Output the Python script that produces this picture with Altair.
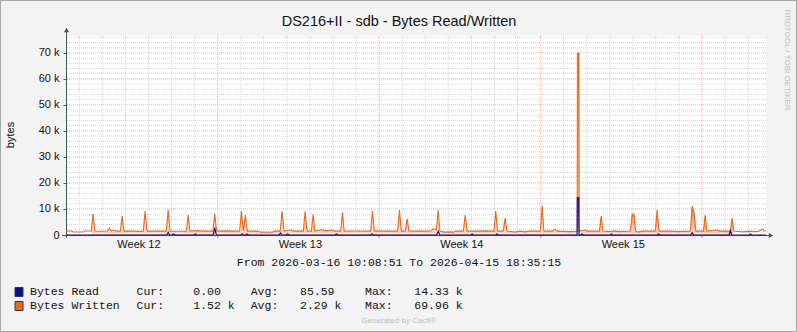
import altair as alt
import pandas as pd
from datetime import datetime, timedelta

# ---------------- data ----------------
TITLE = "DS216+II - sdb - Bytes Read/Written"
START = datetime(2026, 3, 16, 10, 8, 51)
END = datetime(2026, 4, 15, 18, 35, 15)

def off(dt):
    return (dt - START).total_seconds() / 86400.0

SPAN = off(END)

# Bytes Written: day offset from start, value in k, spike group (0 = baseline)
w_day = [0.00, 0.25, 0.30, 0.75, 0.82,
         1.10, 1.175, 1.25, 1.50,
         1.80, 1.88, 1.96, 2.05, 2.15,
         2.36, 2.433, 2.51, 2.80, 3.10,
         3.35, 3.43, 3.51, 3.90,
         4.35, 4.428, 4.51, 4.80,
         5.22, 5.295, 5.37, 5.70, 6.00,
         6.37, 6.449, 6.53, 6.90, 7.25,
         7.53, 7.606, 7.69, 7.78, 7.86,
         8.30, 8.45, 8.95, 9.05,
         9.29, 9.371, 9.45, 9.75, 9.85,
         10.29, 10.369, 10.45,
         10.64, 10.716, 10.79, 11.10, 11.25, 11.50, 11.65,
         11.91, 11.986, 12.06, 12.50,
         13.21, 13.287, 13.37, 13.80,
         14.38, 14.458, 14.54,
         14.71, 14.792, 14.87, 15.30, 15.70,
         15.85, 15.93, 16.06, 16.136, 16.21,
         16.40, 16.80, 16.90,
         17.23, 17.307, 17.39, 17.80, 18.20,
         18.56, 18.634, 18.71,
         18.96, 19.042, 19.12, 19.50, 19.70, 19.90, 20.10,
         20.57, 20.646, 20.72, 21.10, 21.18, 21.30, 21.80,
         22.165, 22.175, 22.240, 22.250,
         22.50, 22.60,
         23.13, 23.204, 23.28, 23.60, 23.80, 24.00,
         24.47, 24.549, 24.60, 24.636, 24.70, 24.80, 25.00,
         25.55, 25.633, 25.71, 26.20, 26.50,
         27.07, 27.151, 27.237, 27.31,
         27.64, 27.714, 27.79, 28.25, 28.35,
         28.81, 28.886, 28.96, 29.30, 29.60, 30.00, 30.20, 30.28, SPAN]
w_k = [1.55, 1.55, 1.15, 1.15, 1.55,
       1.55, 8.1, 1.55, 1.45,
       1.55, 2.6, 1.55, 1.9, 1.5,
       1.5, 7.3, 1.5, 1.55, 1.4,
       1.5, 9.2, 1.5, 1.55,
       1.5, 9.6, 1.5, 1.45,
       1.5, 7.7, 1.5, 1.7, 1.5,
       1.5, 8.1, 1.5, 1.6, 1.5,
       1.5, 9.1, 1.6, 7.7, 1.5,
       1.5, 1.05, 1.05, 1.5,
       1.5, 9.2, 1.5, 1.9, 1.5,
       1.5, 9.1, 1.5,
       1.5, 8.0, 1.5, 2.0, 1.6, 1.9, 1.5,
       1.5, 8.5, 1.5, 1.55,
       1.5, 9.2, 1.5, 1.5,
       1.5, 9.6, 1.5,
       1.5, 6.2, 1.5, 1.5, 1.5,
       1.6, 2.4, 2.0, 9.6, 1.5,
       1.1, 1.1, 1.5,
       1.5, 7.7, 1.5, 1.5, 1.6,
       1.5, 9.2, 1.5,
       1.5, 6.5, 1.5, 1.1, 1.5, 1.2, 1.5,
       1.5, 11.2, 1.5, 1.5, 2.2, 1.5, 1.3,
       1.4, 69.96, 69.96, 1.5,
       1.9, 1.5,
       1.5, 7.3, 1.5, 1.3, 1.6, 1.3,
       1.5, 8.1, 7.9, 7.8, 1.5, 1.1, 1.5,
       1.5, 9.6, 1.5, 1.5, 1.3,
       1.5, 11.2, 8.5, 1.5,
       1.5, 7.7, 1.5, 1.9, 1.5,
       1.5, 6.5, 1.5, 1.2, 1.4, 1.3, 2.2, 1.52, 1.52]
w_grp = [0, 0, 0, 0, 0,
         1, 1, 1, 0,
         2, 2, 2, 0, 0,
         3, 3, 3, 0, 0,
         4, 4, 4, 0,
         5, 5, 5, 0,
         6, 6, 6, 0, 0,
         7, 7, 7, 0, 0,
         8, 8, 8, 8, 8,
         0, 0, 0, 0,
         9, 9, 9, 0, 0,
         10, 10, 10,
         11, 11, 11, 0, 0, 0, 0,
         12, 12, 12, 0,
         13, 13, 13, 0,
         14, 14, 14,
         15, 15, 15, 0, 0,
         16, 16, 16, 16, 16,
         0, 0, 0,
         17, 17, 17, 0, 0,
         18, 18, 18,
         19, 19, 19, 0, 0, 0, 0,
         20, 20, 20, 0, 0, 0, 0,
         21, 21, 21, 21,
         0, 0,
         22, 22, 22, 0, 0, 0,
         23, 23, 23, 23, 23, 0, 0,
         24, 24, 24, 0, 0,
         25, 25, 25, 25,
         26, 26, 26, 0, 0,
         27, 27, 27, 0, 0, 0, 0, 0, 0]

# Bytes Read
r_day = [0.00,
         4.37, 4.43, 4.49, 4.60, 4.66, 4.72,
         5.55, 5.61, 5.67,
         6.38, 6.45, 6.52,
         7.58, 7.64, 7.70, 7.79, 7.85, 7.91,
         9.24, 9.30, 9.36, 9.54, 9.60, 9.66,
         11.67, 11.73, 11.79,
         13.21, 13.27, 13.33,
         16.07, 16.14, 16.21,
         17.55, 17.61, 17.67,
         18.63, 18.69, 18.75,
         22.160, 22.170, 22.235, 22.245,
         22.32, 22.38, 22.44,
         23.59, 23.65, 23.71,
         25.63, 25.69, 25.75,
         27.09, 27.15, 27.21,
         28.75, 28.81, 28.87,
         29.62, 29.68, 29.74, SPAN]
r_k = [0.0,
       0.0, 1.1, 0.0, 0.0, 0.4, 0.0,
       0.0, 0.4, 0.0,
       0.0, 2.7, 0.0,
       0.0, 0.5, 0.0, 0.0, 0.4, 0.0,
       0.0, 0.8, 0.0, 0.0, 0.4, 0.0,
       0.0, 0.4, 0.0,
       0.0, 0.5, 0.0,
       0.0, 1.5, 0.0,
       0.0, 0.4, 0.0,
       0.0, 0.4, 0.0,
       0.0, 14.33, 14.33, 0.0,
       0.0, 0.4, 0.0,
       0.0, 0.4, 0.0,
       0.0, 0.4, 0.0,
       0.0, 0.9, 0.0,
       0.0, 1.8, 0.0,
       0.0, 0.4, 0.0, 0.0]
r_grp = [0,
         1, 1, 1, 0, 0, 0,
         0, 0, 0,
         2, 2, 2,
         0, 0, 0, 0, 0, 0,
         3, 3, 3, 0, 0, 0,
         0, 0, 0,
         0, 0, 0,
         4, 4, 4,
         0, 0, 0,
         0, 0, 0,
         5, 5, 5, 5,
         0, 0, 0,
         0, 0, 0,
         0, 0, 0,
         6, 6, 6,
         7, 7, 7,
         0, 0, 0, 0]

legend_names = ["Bytes Read", "Bytes Written"]
legend_cur = ["0.00", "1.52 k"]
legend_avg = ["85.59", "\u00a02.29 k"]
legend_max = ["14.33 k", "69.96 k"]
week_labels = ["Week 12", "Week 13", "Week 14", "Week 15"]
week_mid_dates = [datetime(2026, 3, 19, 12), datetime(2026, 3, 26, 12),
                  datetime(2026, 4, 2, 12), datetime(2026, 4, 9, 12)]
week_start_dates = [datetime(2026, 3, 23), datetime(2026, 3, 30),
                    datetime(2026, 4, 6), datetime(2026, 4, 13)]
y_major = [0, 10000, 20000, 30000, 40000, 50000, 60000, 70000]
Y_TOP = 76500

# derived grid positions
day_lines = []
d = datetime(2026, 3, 17)
while d < END:
    if d not in week_start_dates:
        day_lines.append(off(d))
    d += timedelta(days=1)
week_lines = [off(x) for x in week_start_dates]
week_mid = [off(x) for x in week_mid_dates]
y_minor = [v for v in range(2000, 77000, 2000) if v % 10000 != 0]
y_grid_major = [v for v in y_major if v > 0]

written = pd.DataFrame({"day": w_day, "bytes": [v * 1000 for v in w_k], "grp": w_grp})
read = pd.DataFrame({"day": r_day, "bytes": [v * 1000 for v in r_k], "grp": r_grp})

# ---------------- styling ----------------
ORANGE = "#EC6A1C"
BLUE = "#0A0AA0"
AXIS = "#3c5a50"
W, H = 700, 199
SANS = "Liberation Sans"
MONO = "Liberation Mono"

xs = alt.Scale(domain=[0, SPAN], nice=False, zero=False)
ys = alt.Scale(domain=[0, Y_TOP], nice=False, zero=True)
yaxis = alt.Axis(values=y_major, labelExpr="datum.value == 0 ? '0' : format(datum.value/1000, 'd') + ' k'",
                 domain=False, grid=False, ticks=True, tickSize=3, tickColor=AXIS,
                 labelFont=SANS, labelFontSize=11, labelColor="#111111", labelPadding=4, title=None)

def X(f="day"):
    return alt.X(f + ":Q", scale=xs, axis=None)

def Y(f="bytes"):
    return alt.Y(f + ":Q", scale=ys, axis=yaxis)

dummy = pd.DataFrame({"a": [0]})

def text(s, x, y, size=11, font=SANS, color="#111111", align="left", angle=0):
    return alt.Chart(dummy).mark_text(font=font, fontSize=size, color=color, align=align,
                                      baseline="middle", angle=angle).encode(
        x=alt.value(x), y=alt.value(y), text=alt.value(s))

layers = []
# grid
layers.append(alt.Chart(pd.DataFrame({"v": y_minor})).mark_rule(color="#d8d8d8", strokeDash=[1, 1], strokeWidth=1)
              .encode(y=Y("v")))
layers.append(alt.Chart(pd.DataFrame({"v": day_lines})).mark_rule(color="#d8d8d8", strokeDash=[1, 1], strokeWidth=1)
              .encode(x=X("v")))
layers.append(alt.Chart(pd.DataFrame({"v": y_grid_major})).mark_rule(color="#e8b2b2", strokeDash=[1, 1], strokeWidth=1)
              .encode(y=Y("v")))
layers.append(alt.Chart(pd.DataFrame({"v": week_lines})).mark_rule(color="#e8b2b2", strokeDash=[1, 1], strokeWidth=1)
              .encode(x=X("v")))
layers.append(alt.Chart(pd.DataFrame({"v": week_lines})).mark_rule(color="#d88a8a", strokeWidth=1)
              .encode(x=X("v"), y=alt.value(H), y2=alt.value(H + 3)))

# areas (gradient per spike)
og = alt.Gradient(gradient="linear", x1=0, x2=0, y1=0, y2=1,
                  stops=[alt.GradientStop(color=ORANGE, offset=0),
                         alt.GradientStop(color="#F29A66", offset=0.35),
                         alt.GradientStop(color="#FBDCC9", offset=1)])
bg = alt.Gradient(gradient="linear", x1=0, x2=0, y1=0, y2=1,
                  stops=[alt.GradientStop(color=BLUE, offset=0),
                         alt.GradientStop(color="#6C68C8", offset=0.5),
                         alt.GradientStop(color="#CFCBF0", offset=1)])
layers.append(alt.Chart(written).transform_filter("datum.grp > 0").mark_area(color=og, opacity=1)
              .encode(x=X(), y=Y(), detail="grp:N"))
layers.append(alt.Chart(read).transform_filter("datum.grp > 0").mark_area(color=bg, opacity=1)
              .encode(x=X(), y=Y(), detail="grp:N"))

# axis lines
layers.append(alt.Chart(dummy).mark_rule(color=AXIS, strokeWidth=1)
              .encode(x=alt.value(-4), x2=alt.value(W + 3), y=alt.value(H + 0.5)))
layers.append(alt.Chart(dummy).mark_rule(color=AXIS, strokeWidth=1)
              .encode(x=alt.value(0.5), y=alt.value(H + 3), y2=alt.value(-5)))
layers.append(alt.Chart(dummy).mark_point(shape="triangle-up", filled=True, size=26, color=AXIS, opacity=1)
              .encode(x=alt.value(0.5), y=alt.value(-6)))
layers.append(alt.Chart(dummy).mark_point(shape="triangle-right", filled=True, size=26, color=AXIS, opacity=1)
              .encode(x=alt.value(W + 5), y=alt.value(H + 0.5)))

# lines
layers.append(alt.Chart(written).mark_line(color=ORANGE, strokeWidth=1.1).encode(x=X(), y=Y()))
layers.append(alt.Chart(read).mark_line(color=BLUE, strokeWidth=1.1).encode(x=X(), y=Y()))

# week labels
layers.append(alt.Chart(pd.DataFrame({"v": week_mid, "t": week_labels}))
              .mark_text(font=SANS, fontSize=11, color="#111111", baseline="middle", dx=2)
              .encode(x=X("v"), y=alt.value(H + 10), text="t:N"))

# texts
layers.append(text(TITLE, 333, -14, size=14.5, align="center"))
layers.append(text("bytes", -55, 99, size=11, align="center", angle=270))
layers.append(text("From 2026-03-16 10:08:51 To 2026-04-15 18:35:15", 333, 227, size=11.5, font=MONO, align="center"))
layers.append(text("Generated by Cacti\u00ae", 333, 285, size=8, color="#bcbcbc", align="center"))
layers.append(text("RRDTOOL / TOBI OETIKER", 721, 24, size=8, color="#bdbdbd", align="center", angle=90))

row_y = [256, 270]
sw_colors = [BLUE, ORANGE]
for i in range(2):
    yy = row_y[i]
    layers.append(alt.Chart(dummy).mark_rect(color=sw_colors[i], stroke="#2a3a35", strokeWidth=1)
                  .encode(x=alt.value(-51), x2=alt.value(-43), y=alt.value(yy - 4.5), y2=alt.value(yy + 4.5)))
    layers.append(text(legend_names[i], -36, yy, size=11.5, font=MONO))
    layers.append(text("Cur:", 70.5, yy, size=11.5, font=MONO))
    layers.append(text(legend_cur[i], 127.3, yy, size=11.5, font=MONO))
    layers.append(text("Avg:", 184.7, yy, size=11.5, font=MONO))
    layers.append(text(legend_avg[i], 234, yy, size=11.5, font=MONO))
    layers.append(text("Max:", 299, yy, size=11.5, font=MONO))
    layers.append(text(legend_max[i], 348.3, yy, size=11.5, font=MONO))

# outer border
layers.append(alt.Chart(dummy).mark_rect(filled=False, stroke="#a8a8a8", strokeWidth=1)
              .encode(x=alt.value(-65.5), x2=alt.value(730.5), y=alt.value(-35.5), y2=alt.value(295.5)))

chart = alt.layer(*layers).properties(
    width=W, height=H,
    padding={"left": 66, "top": 36, "right": 31, "bottom": 97},
    autosize=alt.AutoSizeParams(type="none"),
    background="#f3f3f3",
).configure_view(fill="white", stroke=None)

chart.save("out.html", embed_options={"renderer": "svg", "actions": False})
